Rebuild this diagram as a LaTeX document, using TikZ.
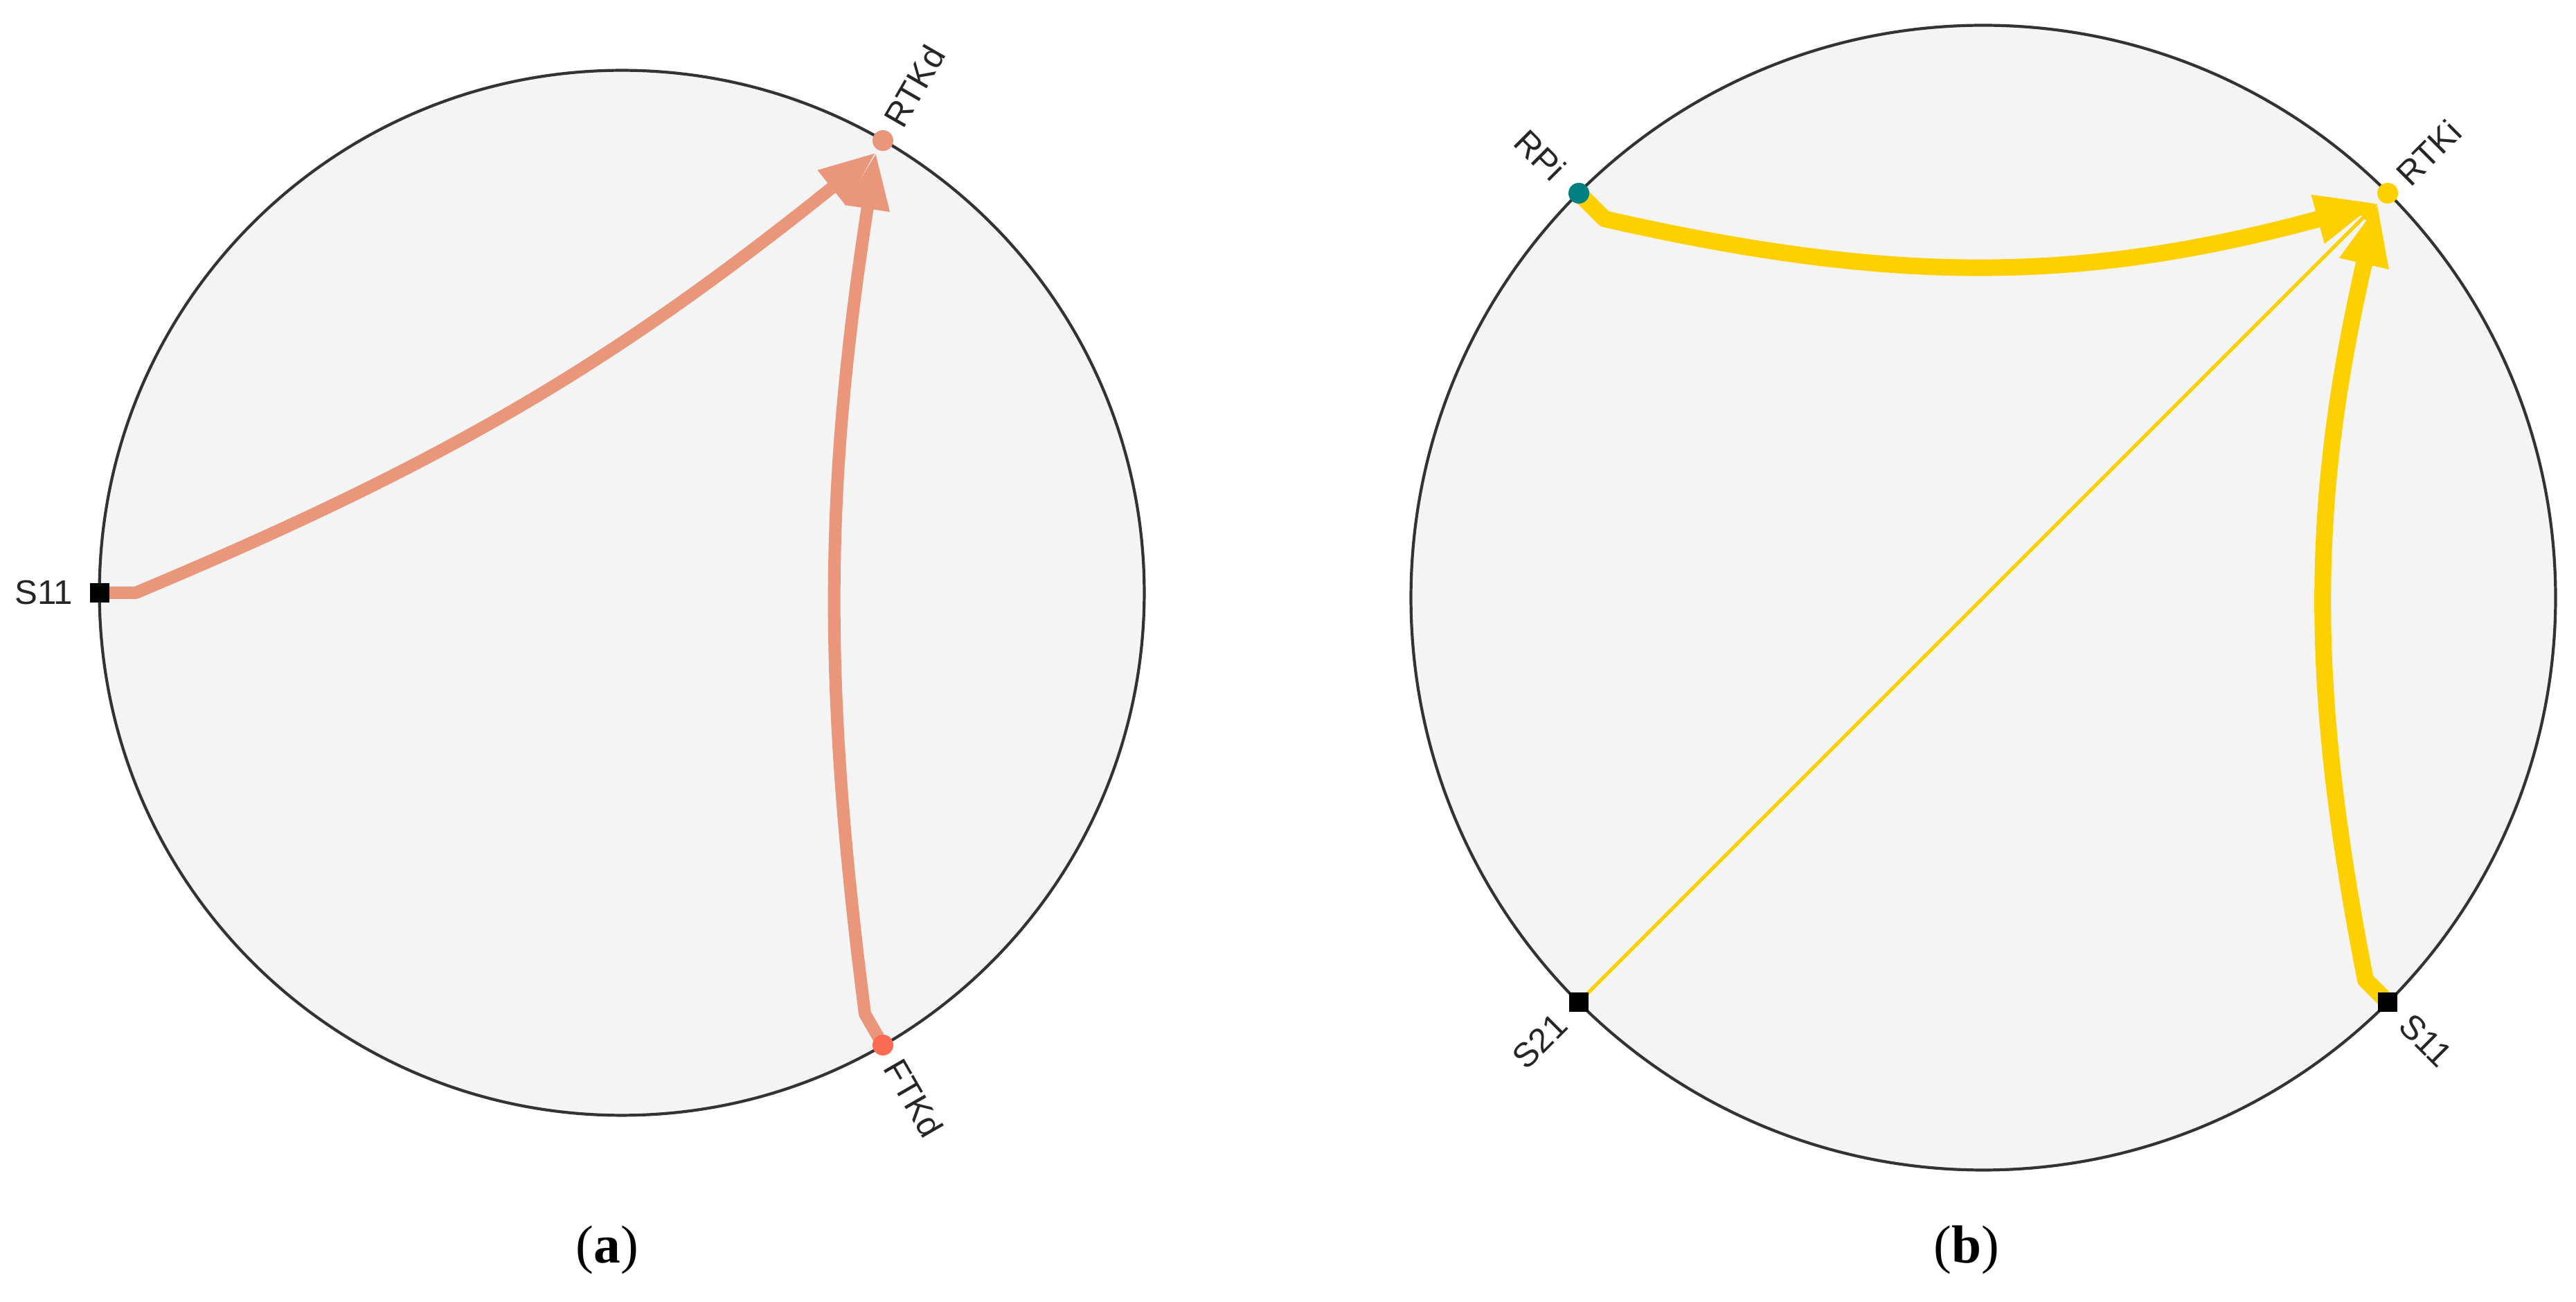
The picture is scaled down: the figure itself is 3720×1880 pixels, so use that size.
\documentclass[tikz,border=0pt]{standalone}
\usepackage{fontspec}
\setmainfont{Liberation Serif}
\newfontfamily\labfont{Liberation Sans}
\usetikzlibrary{arrows.meta}
\definecolor{ringfill}{HTML}{F4F4F4}
\definecolor{ringline}{HTML}{333333}
\definecolor{salm}{HTML}{E9967A}
\definecolor{tomatoc}{HTML}{FA6A55}
\definecolor{goldc}{HTML}{FFD000}
\definecolor{tealc}{HTML}{008080}
\pgfdeclarelayer{back}\pgfdeclarelayer{mid}\pgfsetlayers{back,mid,main}
\tikzset{
 ring/.style={fill=ringfill, draw=ringline, line width=0.042cm},
 sq/.style={rectangle, fill=black, minimum size=0.28cm, inner sep=0},
 dot/.style={circle, minimum size=0.3cm, inner sep=0},
 lab/.style={font=\labfont\fontsize{14}{16}\selectfont, text=black!85, inner sep=0},
 sedge/.style={draw=salm, line width=0.18cm, line join=round, -{Triangle[length=0.82cm,width=0.6cm]}},
 gedge/.style={draw=goldc, line width=0.24cm, line join=round, -{Triangle[length=0.9cm,width=0.66cm]}},
 thinedge/.style={draw=goldc, line width=0.05cm, -{Triangle[length=0.3cm,width=0.2cm]}},
 captext/.style={font=\fontsize{22}{26}\selectfont, anchor=base, inner sep=0},
}
\begin{document}
\begin{tikzpicture}[x=0.01cm,y=-0.01cm]
\useasboundingbox (0,0) rectangle (3720,1880);
% circles
\begin{pgfonlayer}{back}
\draw[ring] (898,856) circle[radius=7.54cm];
\draw[ring] (2864,863) circle[radius=8.26cm];
\end{pgfonlayer}
% ---- panel (a) ----
\node[sq] (s11a) at (144,856) {};
\node[dot, fill=salm] (rtkd) at (1275,203) {};
\node[dot, fill=tomatoc] (ftkd) at (1275,1509) {};
\coordinate (s11ain) at (196,856);
\coordinate (ftkdin) at (1249,1464);
\coordinate (rtkdtip) at (1265,220);
\node[lab, anchor=east] (ls11a) at (106,856) {S11};
\node[lab, rotate=60, anchor=west] (lrtkd) at (1289,179) {RTKd};
\node[lab, rotate=-60, anchor=west] (lftkd) at (1289,1533) {FTKd};
\begin{pgfonlayer}{mid}
\draw[sedge] (s11a.center) -- (s11ain) to[bend right=8] (rtkdtip);
\draw[sedge] (ftkd.center) -- (ftkdin) to[bend left=8] (rtkdtip);
\end{pgfonlayer}
\node[captext] (capa) at (877,1823) {(\textbf{a})};
% ---- panel (b) ----
\node[dot, fill=tealc] (rpi) at (2280,279) {};
\node[dot, fill=goldc] (rtki) at (3448,279) {};
\node[sq] (s21) at (2280,1447) {};
\node[sq] (s11b) at (3448,1447) {};
\coordinate (rpiin) at (2317,316);
\coordinate (s11bin) at (3416,1415);
\coordinate (rtkitip) at (3434,293);
\node[lab, rotate=-45, anchor=east] (lrpi) at (2253,252) {RPi};
\node[lab, rotate=45, anchor=west] (lrtki) at (3468,259) {RTKi};
\node[lab, rotate=45, anchor=east] (ls21) at (2255,1472) {S21};
\node[lab, rotate=-45, anchor=west] (ls11b) at (3473,1472) {S11};
\begin{pgfonlayer}{mid}
\draw[thinedge] (s21.center) -- (rtkitip);
\draw[gedge] (rpi.center) -- (rpiin) to[bend right=14] (rtkitip);
\draw[gedge] (s11b.center) -- (s11bin) to[bend left=12] (rtkitip);
\end{pgfonlayer}
\node[captext] (capb) at (2840,1823) {(\textbf{b})};
\end{tikzpicture}
\end{document}
